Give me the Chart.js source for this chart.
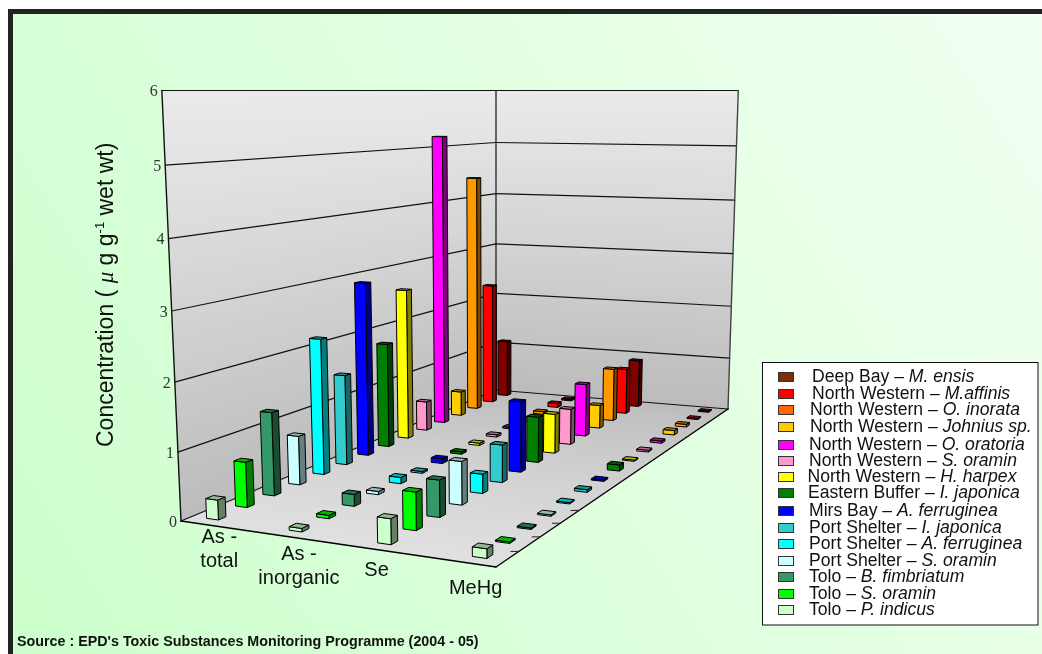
<!doctype html>
<html>
<head>
<meta charset="utf-8">
<style>html,body{margin:0;background:#fff}canvas{display:block}</style>
<script src="https://cdn.jsdelivr.net/npm/chart.js@4"></script>
</head>
<body>
<canvas id="c" width="1042" height="654"></canvas>
<script>
// Analytes along the front edge of the floor
const categories = [['As -', 'total'], ['As -', 'inorganic'], ['Se'], ['MeHg']];

// Concentrations per species, in category order (As-total, As-inorganic, Se, MeHg)
const toloPIndicus = [0.29, 0.05, 0.36, 0.13];
const toloSOramin = [0.68, 0.05, 0.55, 0.02];
const toloBFimbriatum = [1.28, 0.18, 0.55, 0.02];
const portSOramin = [0.77, 0.05, 0.66, 0.02];
const portAFerruginea = [2.18, 0.10, 0.30, 0.02];
const portIJaponica = [1.48, 0.03, 0.60, 0.04];
const mirsAFerruginea = [2.90, 0.08, 1.15, 0.02];
const easternIJaponica = [1.78, 0.04, 0.76, 0.10];
const nwHHarpex = [2.62, 0.04, 0.67, 0.02];
const nwSOramin = [0.52, 0.04, 0.62, 0.03];
const nwOOratoria = [5.20, 0.03, 0.93, 0.04];
const nwJohnius = [0.45, 0.05, 0.42, 0.08];
const nwOInorata = [4.40, 0.05, 0.97, 0.05];
const nwMAffinis = [2.30, 0.08, 0.85, 0.02];
const deepMEnsis = [1.10, 0.03, 0.90, 0.02];

// Rows run from the front of the floor to the back
const seriesValues = [toloPIndicus, toloSOramin, toloBFimbriatum, portSOramin, portAFerruginea,
  portIJaponica, mirsAFerruginea, easternIJaponica, nwHHarpex, nwSOramin, nwOOratoria,
  nwJohnius, nwOInorata, nwMAffinis, deepMEnsis];
const seriesRegions = ['Tolo', 'Tolo', 'Tolo', 'Port Shelter', 'Port Shelter', 'Port Shelter', 'Mirs Bay',
  'Eastern Buffer', 'North Western', 'North Western', 'North Western', 'North Western', 'North Western',
  'North Western', 'Deep Bay'];
const seriesSpecies = ['P. indicus', 'S. oramin', 'B. fimbriatum', 'S. oramin', 'A. ferruginea', 'I. japonica',
  'A. ferruginea', 'I. japonica', 'H. harpex', 'S. oramin', 'O. oratoria', 'Johnius sp.', 'O. inorata',
  'M.affinis', 'M. ensis'];
const seriesColors = ['#ccffcc', '#00ff00', '#339966', '#ccffff', '#00ffff', '#33cccc', '#0000ff', '#008000',
  '#ffff00', '#ff99cc', '#ff00ff', '#ffcc00', '#ff9900', '#ff0000', '#800000'];
const legendColors = ['#ccffcc', '#00ff00', '#339966', '#ccffff', '#00ffff', '#33cccc', '#0000ff', '#008000',
  '#ffff00', '#ff99cc', '#ff00ff', '#ffcc00', '#ff6600', '#ff0000', '#803000'];

// Layout of the perspective box, in canvas pixels
const floorCorners = [[181, 521], [496, 567], [728, 409], [496, 390]];
const horizonY = 90.5;
const verticalVanish = [496, 7600];
const heightEase = 0.05;
const categoryInset = 0.072;
const barHalfU = 0.021;
const barHalfV = 0.0085;
const categoryLabelNudge = [[18, 14], [14, 18], [2, 21], [5, 25]];
const legendRowY = [377, 394, 410, 427, 445, 461, 477, 493, 511, 528, 544, 561, 577, 594, 610];
const legendTextX = [812, 812, 810, 810, 809, 809, 807.5, 808, 809, 809, 809, 809, 809, 809, 809];

// Homography from the unit floor square to the floor quad
const floorMap = (() => {
  const [[x0, y0], [x1, y1], [x2, y2], [x3, y3]] = floorCorners;
  const dx1 = x1 - x2, dx2 = x3 - x2, dx3 = x0 - x1 + x2 - x3;
  const dy1 = y1 - y2, dy2 = y3 - y2, dy3 = y0 - y1 + y2 - y3;
  const det = dx1 * dy2 - dx2 * dy1;
  const g = (dx3 * dy2 - dx2 * dy3) / det, h = (dx1 * dy3 - dx3 * dy1) / det;
  return { a: x1 - x0 + g * x1, b: x3 - x0 + h * x3, c: x0, d: y1 - y0 + g * y1, e: y3 - y0 + h * y3, f: y0, g, h };
})();

// u runs along the categories, v into the depth, w up the value axis (all 0..1).
// Verticals lean toward a far vanishing point; the top of the box sits on the horizon.
function project(u, v, w) {
  const den = floorMap.g * u + floorMap.h * v + 1;
  const X = (floorMap.a * u + floorMap.b * v + floorMap.c) / den;
  const Y = (floorMap.d * u + floorMap.e * v + floorMap.f) / den;
  const topX = verticalVanish[0] + (X - verticalVanish[0]) * (verticalVanish[1] - horizonY) / (verticalVanish[1] - Y);
  const t = w / (1 + heightEase * (1 - w));
  return [X + (topX - X) * t, Y + (horizonY - Y) * t];
}

const decimalOf = (scale, value) => scale.getDecimalForPixel(scale.getPixelForValue(value));
const categoryU = (chart, i) => categoryInset + decimalOf(chart.scales.x, i) * (1 - 2 * categoryInset);
const seriesV = (chart, i) => decimalOf(chart.scales.depth, i);
const heightW = (chart, value) => decimalOf(chart.scales.y, value);

function polygon(ctx, pts, fill, stroke, width) {
  ctx.beginPath();
  pts.forEach((p, i) => (i ? ctx.lineTo(p[0], p[1]) : ctx.moveTo(p[0], p[1])));
  ctx.closePath();
  if (fill) { ctx.fillStyle = fill; ctx.fill(); }
  if (stroke) { ctx.strokeStyle = stroke; ctx.lineWidth = width; ctx.stroke(); }
}

function segment(ctx, p, q, stroke, width) {
  ctx.beginPath();
  ctx.moveTo(p[0], p[1]);
  ctx.lineTo(q[0], q[1]);
  ctx.strokeStyle = stroke;
  ctx.lineWidth = width;
  ctx.stroke();
}

function shade(hex, k) {
  const n = parseInt(hex.slice(1), 16);
  const ch = s => Math.round(((n >> s) & 255) * k);
  return `rgb(${ch(16)},${ch(8)},${ch(0)})`;
}

const mix = (a, b, t) => { const c = Math.round(a + (b - a) * t); return `rgb(${c},${c},${c})`; };

// A bar is drawn as a prism standing on the floor: front, right side and lid
class PrismController extends Chart.BarController {
  static id = 'prism';
  static defaults = Chart.BarController.defaults;
  static overrides = Chart.BarController.overrides;
  draw() {
    const chart = this.chart, ctx = chart.ctx, dataset = this.getDataset();
    const v = seriesV(chart, this.index);
    ctx.save();
    ctx.lineJoin = 'round';
    dataset.data.forEach((value, i) => {
      const u = categoryU(chart, i), w = heightW(chart, value);
      const u0 = u - barHalfU, u1 = u + barHalfU, v0 = v - barHalfV, v1 = v + barHalfV;
      const base = dataset.backgroundColor;
      polygon(ctx, [project(u1, v0, 0), project(u1, v1, 0), project(u1, v1, w), project(u1, v0, w)], shade(base, 0.5), '#000', 1);
      polygon(ctx, [project(u0, v0, 0), project(u1, v0, 0), project(u1, v0, w), project(u0, v0, w)], base, '#000', 1);
      polygon(ctx, [project(u0, v0, w), project(u1, v0, w), project(u1, v1, w), project(u0, v1, w)], shade(base, 0.72), '#000', 1);
    });
    ctx.restore();
  }
}
Chart.register(PrismController);

function drawRuns(ctx, runs, x, y) {
  let cursor = x;
  runs.forEach(run => {
    ctx.font = run.font;
    ctx.fillText(run.text, cursor, y + (run.rise || 0));
    cursor += ctx.measureText(run.text).width;
  });
}

const boxPlugin = {
  id: 'box3d',
  beforeDatasetsDraw(chart) {
    const ctx = chart.ctx, yScale = chart.scales.y;
    ctx.save();
    // Page backdrop and frame
    ctx.fillStyle = '#fff';
    ctx.fillRect(0, 0, chart.width, chart.height);
    ctx.fillStyle = '#222';
    ctx.fillRect(8, 9, chart.width - 8, chart.height - 9);
    const bg = ctx.createLinearGradient(chart.width, 14, 13, chart.height);
    bg.addColorStop(0, '#f2fff2');
    bg.addColorStop(1, '#ccffcc');
    ctx.fillStyle = bg;
    ctx.fillRect(13, 14, chart.width - 13, chart.height - 14);

    // Walls fade from light at the top to darker at the floor
    for (let k = 60; k > 0; k--) {
      const w = k / 60, col = mix(187, 234, w);
      polygon(ctx, [project(0, 0, 0), project(0, 1, 0), project(0, 1, w), project(0, 0, w)], col);
      polygon(ctx, [project(0, 1, 0), project(1, 1, 0), project(1, 1, w), project(0, 1, w)], col);
    }
    // Floor fades from the back row to the front edge
    for (let k = 0; k < 60; k++) {
      const v = k / 60, col = mix(224, 188, v);
      polygon(ctx, [project(0, v, 0), project(1, v, 0), project(1, 1, 0), project(0, 1, 0)], col);
    }

    // Horizontal grid lines on both walls, with their value labels on the left edge
    ctx.lineCap = 'round';
    yScale.ticks.forEach(tick => {
      const w = heightW(chart, tick.value);
      segment(ctx, project(0, 0, w), project(0, 1, w), '#111', 1.2);
      segment(ctx, project(0, 1, w), project(1, 1, w), '#111', 1.2);
      const p = project(0, 0, w);
      ctx.font = '16px "Liberation Serif"';
      ctx.fillStyle = '#333';
      ctx.textAlign = 'right';
      ctx.textBaseline = 'middle';
      ctx.fillText(String(tick.value), p[0] - 4, p[1] + 1.5);
    });

    // Box outline
    const top = heightW(chart, yScale.max);
    segment(ctx, project(0, 0, 0), project(0, 0, top), '#111', 1.4);
    segment(ctx, project(0, 1, 0), project(0, 1, top), '#111', 1.2);
    segment(ctx, project(1, 1, 0), project(1, 1, top), '#444', 1.4);
    segment(ctx, project(0, 0, 0), project(1, 0, 0), '#000', 1.4);
    segment(ctx, project(1, 0, 0), project(1, 1, 0), '#000', 1.4);

    // Short ticks between the rows along the right-hand floor edge
    chart.scales.depth.ticks.forEach((t, i) => {
      if (!i) return;
      const v = (seriesV(chart, i) + seriesV(chart, i - 1)) / 2;
      const p = project(1, v, 0);
      segment(ctx, p, [p[0] - 8, p[1]], '#222', 1);
    });
    ctx.restore();
  },
  afterDatasetsDraw(chart) {
    const ctx = chart.ctx;
    ctx.save();
    ctx.fillStyle = '#111';
    ctx.textBaseline = 'middle';

    // Category labels below the front edge
    ctx.textAlign = 'center';
    ctx.font = '20px "Liberation Sans"';
    chart.data.labels.forEach((lines, i) => {
      const p = project(categoryU(chart, i), 0, 0), nudge = categoryLabelNudge[i];
      lines.forEach((line, n) => ctx.fillText(line, p[0] + nudge[0], p[1] + nudge[1] + n * 24));
    });

    // Value axis title, turned to read upward
    ctx.save();
    ctx.translate(107, 447);
    ctx.rotate(-Math.PI / 2);
    ctx.textAlign = 'left';
    drawRuns(ctx, [
      { text: 'Concentration ( ', font: '23px "Liberation Sans"' },
      { text: '\u03bc', font: 'italic 23px "Liberation Serif"' },
      { text: ' g g', font: '23px "Liberation Sans"' },
      { text: '-1', font: '13px "Liberation Sans"', rise: -7 },
      { text: ' wet wt)', font: '23px "Liberation Sans"' }
    ], 0, 0);
    ctx.restore();

    // Legend, with the deepest row listed first
    ctx.fillStyle = '#fff';
    ctx.fillRect(762.5, 362.5, 275.5, 262.5);
    ctx.strokeStyle = '#111';
    ctx.lineWidth = 1;
    ctx.strokeRect(762.5, 362.5, 275.5, 262.5);
    ctx.textAlign = 'left';
    chart.data.datasets.forEach((dataset, i) => {
      const row = chart.data.datasets.length - 1 - i, y = legendRowY[row];
      ctx.fillStyle = legendColors[i];
      ctx.fillRect(778.5, y - 4.5, 15, 9);
      ctx.strokeStyle = '#333';
      ctx.strokeRect(778.5, y - 4.5, 15, 9);
      ctx.fillStyle = '#111';
      drawRuns(ctx, [
        { text: seriesRegions[i] + ' \u2013 ', font: '17.6px "Liberation Sans"' },
        { text: seriesSpecies[i], font: 'italic 17.6px "Liberation Sans"' }
      ], legendTextX[row], y);
    });

    // Source note
    ctx.fillStyle = '#111';
    ctx.font = 'bold 14.3px "Liberation Sans"';
    ctx.fillText("Source : EPD's Toxic Substances Monitoring Programme (2004 - 05)", 17, 642);
    ctx.restore();
  }
};

new Chart(document.getElementById('c'), {
  type: 'prism',
  data: {
    labels: categories,
    datasets: seriesValues.map((values, i) => ({
      label: seriesRegions[i] + ' \u2013 ' + seriesSpecies[i],
      data: values,
      backgroundColor: seriesColors[i]
    }))
  },
  options: {
    responsive: false,
    animation: false,
    events: [],
    layout: { padding: 0 },
    plugins: { legend: { display: false }, tooltip: { enabled: false } },
    scales: {
      x: { type: 'category', offset: false, display: false },
      y: { type: 'linear', min: 0, max: 6, ticks: { stepSize: 1 }, display: false },
      depth: { type: 'category', axis: 'x', labels: seriesRegions.map((r, i) => r + ' ' + seriesSpecies[i]), offset: true, display: false }
    }
  },
  plugins: [boxPlugin]
});
</script>
</body>
</html>
